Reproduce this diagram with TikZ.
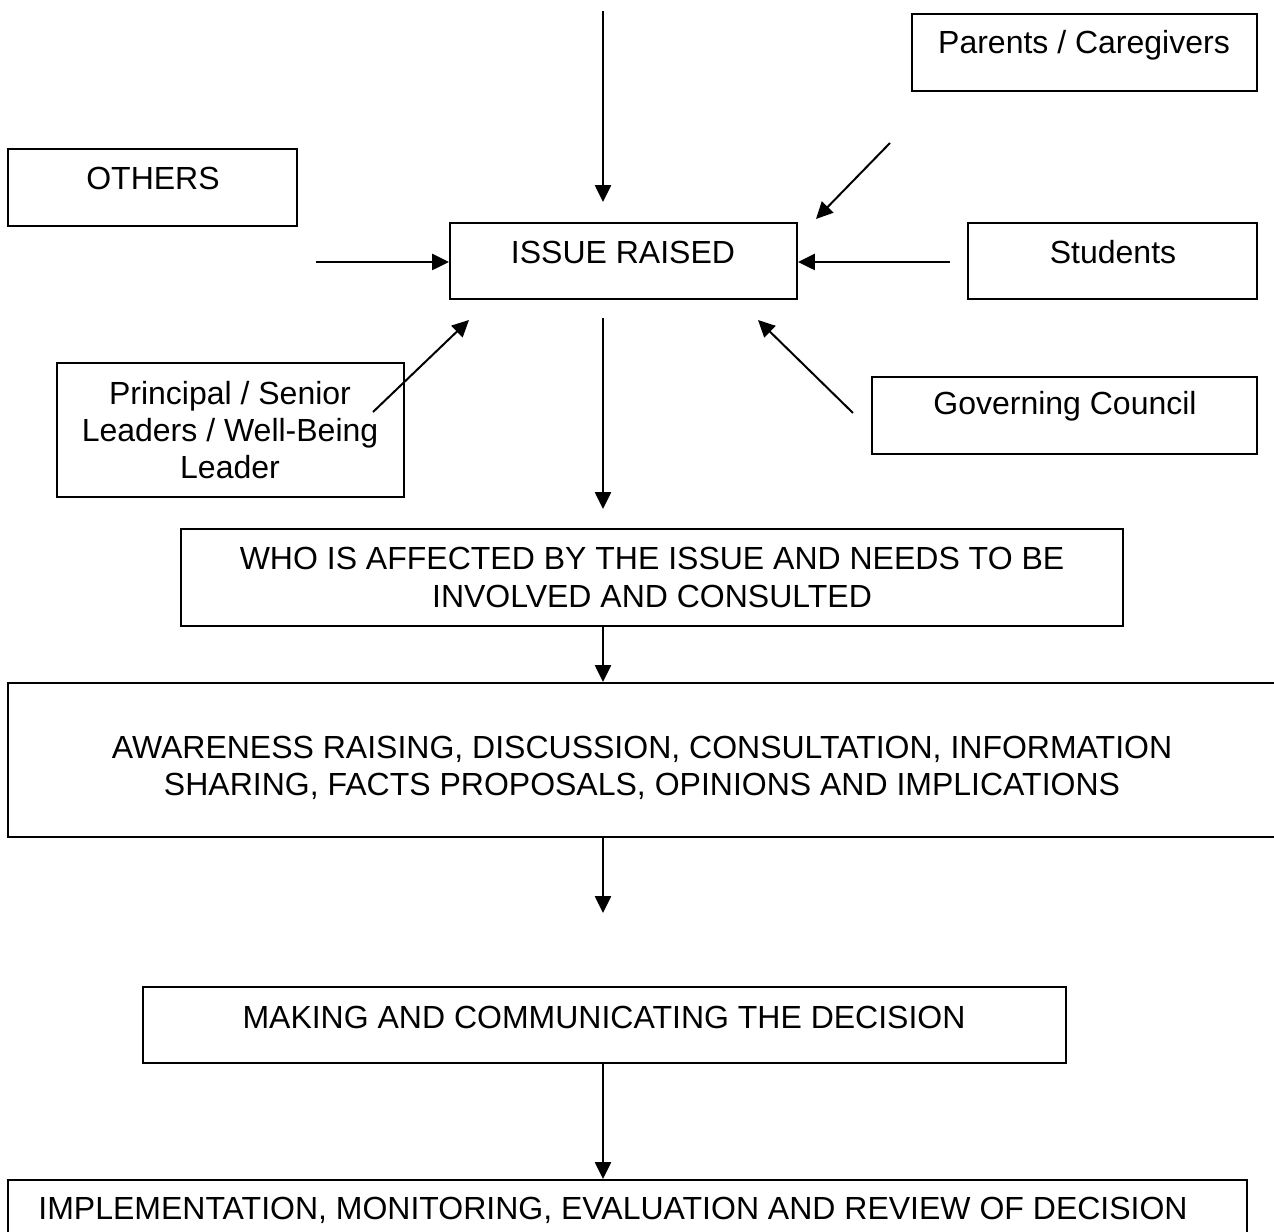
\documentclass[tikz,border=0pt]{standalone}
\usepackage{fontspec}
\setmainfont{Liberation Sans}
\usetikzlibrary{arrows.meta,fit}
\begin{document}
\begin{tikzpicture}[x=0.375pt,y=-0.375pt,
  box/.style={draw, line width=0.75pt, inner sep=0pt},
  txt/.style={inner sep=0pt, align=center, font=\fontsize{12}{13.8}\selectfont},
  arr/.style={line width=0.75pt, -{Triangle[length=6.3pt,width=6pt]}}]
\useasboundingbox (0,0) rectangle (1274,1232);
% boxes
\node[box, fit={(912,14) (1257,91)}] (parents) {};
\node[box, fit={(8,149) (297,226)}] (others) {};
\node[box, fit={(450,223) (797,299)}] (issue) {};
\node[box, fit={(968,223) (1257,299)}] (students) {};
\node[box, fit={(57,363) (404,497)}] (principal) {};
\node[box, fit={(872,377) (1257,454)}] (governing) {};
\node[box, fit={(181,529) (1123,626)}] (who) {};
\node[box, fit={(8,683) (1300,837)}] (aware) {};
\node[box, fit={(143,987) (1066,1063)}] (making) {};
\node[box, fit={(8,1180) (1247,1260)}] (impl) {};
% texts
\node[txt] (parentsT) at (1084,45) {Parents / Caregivers};
\node[txt] (othersT) at (153,178) {OTHERS};
\node[txt] (issueT) at (623,252) {ISSUE RAISED};
\node[txt] (studentsT) at (1113,252) {Students};
\node[txt] (principalT) at (230,430) {Principal / Senior\\Leaders / Well-Being\\Leader};
\node[txt] (governingT) at (1065,406) {Governing Council};
\node[txt, font=\fontsize{12}{14.25}\selectfont] (whoT) at (652,577) {WHO IS AFFECTED BY THE ISSUE AND NEEDS TO BE\\INVOLVED AND CONSULTED};
\node[txt] (awareT) at (642,768) {AWARENESS RAISING, DISCUSSION, CONSULTATION, INFORMATION\\SHARING, FACTS PROPOSALS, OPINIONS AND IMPLICATIONS};
\node[txt] (makingT) at (604,1017) {MAKING AND COMMUNICATING THE DECISION};
\node[txt] (implT) at (613,1210) {IMPLEMENTATION, MONITORING, EVALUATION AND REVIEW OF DECISION};
% free arrow ends
\coordinate (topS) at (603,11);
\coordinate (topE) at (603,202);
\coordinate (parS) at (890,143);
\coordinate (parE) at (816,219);
\coordinate (othS) at (316,262);
\coordinate (stuS) at (950,262);
\coordinate (issS) at (603,318);
\coordinate (issE) at (603,509);
\coordinate (priS) at (373,412);
\coordinate (priE) at (469,320);
\coordinate (govS) at (853,413);
\coordinate (govE) at (758,320);
\coordinate (awS) at (603,837);
\coordinate (awE) at (603,913);
% arrows
\draw[arr] (topS) -- (topE);
\draw[arr] (parS) -- (parE);
\draw[arr] (othS) -- (othS -| issue.west);
\draw[arr] (stuS) -- (stuS -| issue.east);
\draw[arr] (issS) -- (issE);
\draw[arr] (priS) -- (priE);
\draw[arr] (govS) -- (govE);
\draw[arr] (who.south -| issS) -- (aware.north -| issS);
\draw[arr] (awS) -- (awE);
\draw[arr] (making.south -| issS) -- (impl.north -| issS);
\end{tikzpicture}
\end{document}
